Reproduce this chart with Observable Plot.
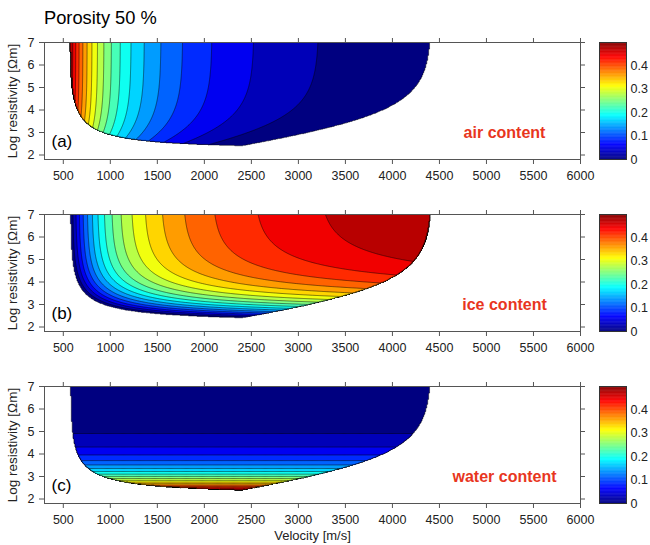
<!DOCTYPE html>
<html><head><meta charset="utf-8">
<script src="https://cdn.jsdelivr.net/npm/d3@7"></script>
<script src="https://cdn.jsdelivr.net/npm/@observablehq/plot@0.6"></script>
<style>
body{margin:0;background:#fff;}
#chart{position:relative;width:650px;height:545px;font-family:"Liberation Sans",Arial,sans-serif;overflow:hidden;}
.abs{position:absolute;}
#title{left:44px;top:9px;font-size:18.3px;line-height:18px;color:#000;white-space:nowrap;}
</style></head><body>
<div id="chart"><div id="title" class="abs"></div></div>
<script>
// ---------------- values ----------------
const titleText = "Porosity 50 %";
const porosity = 0.5;                       // from the title
const phases = ["water", "ice", "air", "rock"];
const phaseVelocity = [1500, 3500, 300, 6000];   // m/s (edges of the valid region)
const saturationLogRho = 2.4;               // log10 resistivity at full water saturation (lowest point)
const archieN = 2;                          // saturation exponent (spacing of water contours)
const panelKeys = ["air", "ice", "water"];
const panelTags = ["(a)", "(b)", "(c)"];
const panelNames = ["air content", "ice content", "water content"];
const xTicks = [500, 1000, 1500, 2000, 2500, 3000, 3500, 4000, 4500, 5000, 5500, 6000];
const yTicks = [2, 3, 4, 5, 6, 7];
const colorTicks = [0, 0.1, 0.2, 0.3, 0.4];
const levelCount = 18;
const colorMax = 0.5;
const jetStops = [0, 0.125, 0.375, 0.625, 0.875, 1];
const jetColors = ["#000080", "#0000ff", "#00ffff", "#ffff00", "#ff0000", "#800000"];
const xLabel = "Velocity [m/s]";
const yLabel = "Log resistivity [Ωm]";

// ---------------- model grid (four-phase model) ----------------
const gridX = [400, 4600], gridY = [1.8, 7];
const nx = 420, ny = 260;
const outside = -1000;   // cells outside the physically valid region (below every contour level)
const [vw, vi, va, vr] = phaseVelocity;
function fractions(v, lr) {
  if (lr < saturationLogRho) return null;
  const fw = porosity * Math.pow(10, -(lr - saturationLogRho) / archieN);
  const s = 1 / v - (1 - porosity) / vr - fw / vw;
  const fa = (s - (porosity - fw) / vi) / (1 / va - 1 / vi);
  const fi = porosity - fw - fa;
  if (fa < 0 || fi < 0) return null;
  return {air: fa, ice: fi, water: fw};
}
const grids = {air: new Float64Array(nx * ny), ice: new Float64Array(nx * ny), water: new Float64Array(nx * ny)};
for (let j = 0; j < ny; ++j) {
  const lr = gridY[0] + (j + 0.5) * (gridY[1] - gridY[0]) / ny;
  for (let i = 0; i < nx; ++i) {
    const v = gridX[0] + (i + 0.5) * (gridX[1] - gridX[0]) / nx;
    const f = fractions(v, lr);
    for (const k of panelKeys) grids[k][j * nx + i] = f ? f[k] : outside;
  }
}
const levels = d3.range(levelCount).map(k => k * porosity / levelCount);

const colorOpts = {type: "linear", domain: jetStops.map(t => t * colorMax), range: jetColors, interpolate: "rgb", clamp: true};
const fontFamily = '"Liberation Sans", Arial, sans-serif';
const chart = document.getElementById("chart");
document.getElementById("title").textContent = titleText;

const frameTops = [42, 214, 386];
const mTop = 10, frameH = 117;

panelKeys.forEach((key, k) => {
  const last = k === panelKeys.length - 1;
  const mBottom = last ? 44 : 30;
  const p = Plot.plot({
    width: 650, height: mTop + frameH + mBottom,
    marginLeft: 44, marginRight: 70, marginTop: mTop, marginBottom: mBottom,
    style: {fontFamily, fontSize: "12.5px", color: "#222", background: "transparent", overflow: "visible"},
    x: {domain: [300, 6000]},
    y: {domain: [1.8, 7]},
    color: colorOpts,
    marks: [
      Plot.contour(grids[key], {
        x1: gridX[0], x2: gridX[1], y1: gridY[0], y2: gridY[1], width: nx, height: ny,
        fill: Plot.identity, thresholds: levels, stroke: "#000", strokeWidth: 0.55, strokeOpacity: 0.9
      }),
      Plot.frame({stroke: "#555"}),
      Plot.axisX({anchor: "bottom", ticks: xTicks, tickFormat: d => String(d), tickSize: 5, tickPadding: 7, label: null, stroke: "#555"}),
      Plot.axisX({anchor: "top", ticks: xTicks, tickFormat: () => "", tickSize: 5, label: null, stroke: "#555"}),
      Plot.axisY({anchor: "left", ticks: yTicks, tickFormat: d => String(d), tickSize: 5, tickPadding: 5, label: null, stroke: "#555"}),
      Plot.axisY({anchor: "right", ticks: yTicks, tickFormat: () => "", tickSize: 4, label: null, stroke: "#555"}),
      Plot.text([panelTags[k]], {text: d => d, frameAnchor: "bottom-left", dx: 7, dy: -18, fontSize: 17, textAnchor: "start", lineAnchor: "middle", fill: "#000"}),
      Plot.text([panelNames[k]], {text: d => d, frameAnchor: "bottom-right", dx: -76, dy: -27, fontSize: 16, fontWeight: "bold", fill: "#e8361e", textAnchor: "middle", lineAnchor: "middle"}),
      Plot.text([yLabel], {text: d => d, frameAnchor: "left", dx: -32, rotate: -90, fontSize: 13.5, fill: "#222", textAnchor: "middle", lineAnchor: "middle"}),
      ...(last ? [Plot.text([xLabel], {text: d => d, frameAnchor: "bottom", dy: 32, fontSize: 13, fill: "#222", textAnchor: "middle", lineAnchor: "middle"})] : [])
    ]
  });
  p.classList.add("abs");
  p.style.left = "0px";
  p.style.top = (frameTops[k] - mTop) + "px";
  chart.appendChild(p);

  // colour bar
  const step = 0.0025;
  const cb = Plot.plot({
    width: 51, height: mTop + frameH + 30,
    marginLeft: 0, marginRight: 24, marginTop: mTop, marginBottom: 30,
    style: {fontFamily, fontSize: "12.5px", color: "#222", background: "transparent", overflow: "visible"},
    x: {domain: [0, 1], axis: null},
    y: {domain: [0, colorMax]},
    color: colorOpts,
    marks: [
      Plot.rectY(d3.range(0, colorMax, step), {x1: 0, x2: 1, y1: d => d, y2: d => Math.min(colorMax, d + step * 1.6), fill: d => d + step / 2}),
      Plot.frame({stroke: "#333"}),
      Plot.axisY({anchor: "right", ticks: colorTicks, tickFormat: d => String(d), tickSize: 0, tickPadding: 4, label: null})
    ]
  });
  cb.classList.add("abs");
  cb.style.left = "599px";
  cb.style.top = (frameTops[k] - mTop) + "px";
  chart.appendChild(cb);
});
</script>
</body></html>
